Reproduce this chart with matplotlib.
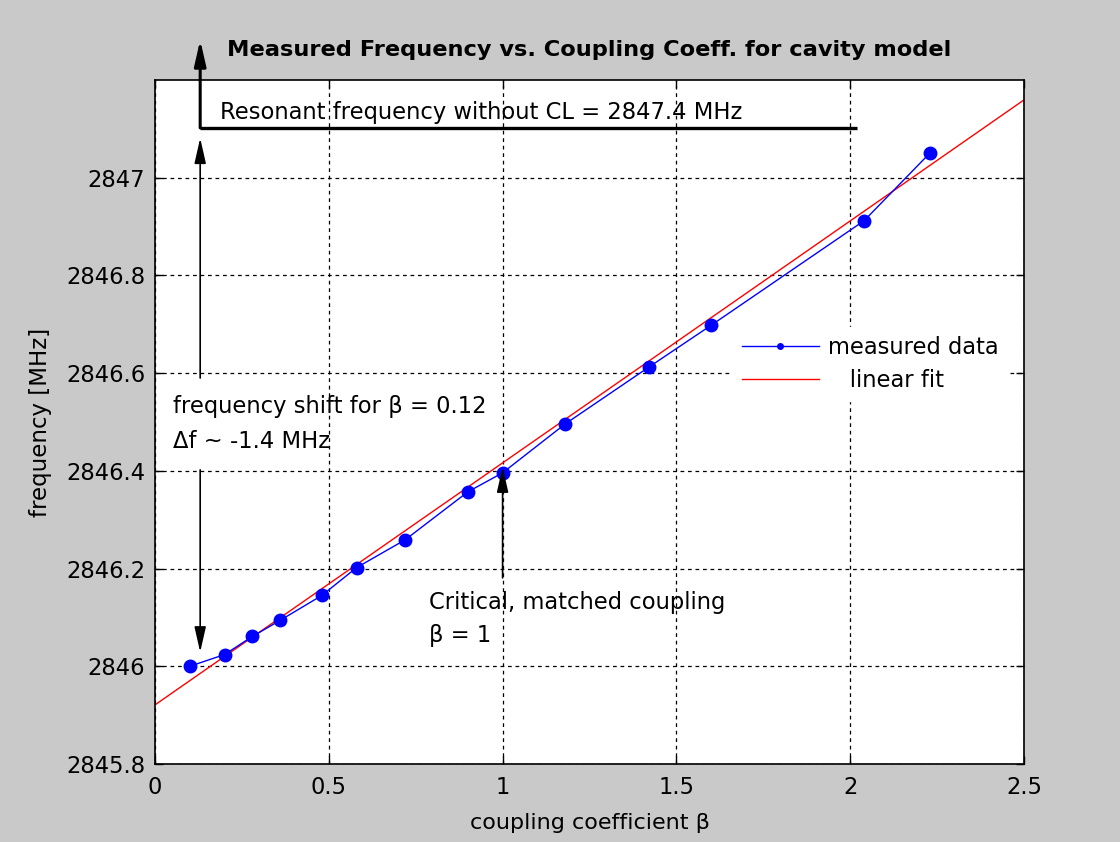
import matplotlib
matplotlib.use("Agg")
import matplotlib.pyplot as plt
from matplotlib.lines import Line2D
from matplotlib.patches import FancyArrowPatch

plt.rcParams['font.family'] = ['DejaVu Sans']

# measured coupling coefficient and resonant frequency
beta = [0.10, 0.20, 0.28, 0.36, 0.48, 0.58, 0.72, 0.90, 1.00, 1.18, 1.42, 1.60, 2.04, 2.23]
freq = [2846.000, 2846.024, 2846.061, 2846.094, 2846.145, 2846.202, 2846.259,
        2846.357, 2846.396, 2846.496, 2846.612, 2846.698, 2846.912, 2847.051]

# linear fit f = a + b*beta
fit_beta = [0.0, 2.5]
fit_intercept = 2845.921
fit_slope = 0.4953
fit_freq = [fit_intercept + fit_slope * b for b in fit_beta]

x_ticks = [0, 0.5, 1, 1.5, 2, 2.5]
x_tick_labels = ['0', '0.5', '1', '1.5', '2', '2.5']
y_ticks = [2845.8, 2846.0, 2846.2, 2846.4, 2846.6, 2846.8, 2847.0]
y_tick_labels = ['2845.8', '2846', '2846.2', '2846.4', '2846.6', '2846.8', '2847']

FS = 16.3

W, H = 1120, 842
fig = plt.figure(figsize=(W / 100, H / 100), dpi=100, facecolor='#c9c9c9')
ax = fig.add_axes([155 / W, 1 - 764 / H, (1024 - 155) / W, (764 - 80) / H])
ax.set_facecolor('white')

ax.plot(beta, freq, color='blue', lw=1.0, marker='o', ms=9, mfc='blue', mec='blue', zorder=3)
ax.plot(fit_beta, fit_freq, color='red', lw=1.0, zorder=2)

ax.set_xlim(0, 2.5)
ax.set_ylim(2845.8, 2847.2)
ax.set_xticks(x_ticks)
ax.set_xticklabels(x_tick_labels)
ax.set_yticks(y_ticks)
ax.set_yticklabels(y_tick_labels)
ax.tick_params(direction='in', length=6, width=1, top=True, right=True,
               labelsize=FS, colors='black')
ax.tick_params(axis='x', pad=9)
ax.tick_params(axis='y', pad=7)
for s in ax.spines.values():
    s.set_linewidth(1.2)
ax.grid(True, color='black', lw=0.9, linestyle=(0, (3, 3)))

ax.set_xlabel('coupling coefficient β', fontsize=16, labelpad=10)
ax.set_ylabel('frequency [MHz]', fontsize=16.5, labelpad=10)
ax.set_title('Measured Frequency vs. Coupling Coeff. for cavity model',
             fontsize=16.2, fontweight='bold', pad=17)

# legend
handles = [Line2D([], [], color='blue', lw=1.0, marker='o', ms=4),
           Line2D([], [], color='red', lw=1.0)]
leg = ax.legend(handles, ['measured data', '   linear fit'], loc='center left',
                bbox_to_anchor=(0.652, 0.585), fontsize=FS, frameon=True,
                handlelength=3.4, handletextpad=0.4, labelspacing=0.45,
                borderpad=0.4, fancybox=False)
leg.get_frame().set_edgecolor('white')
leg.get_frame().set_facecolor('white')
leg.get_frame().set_alpha(1.0)


def arrow(x0, y0, x1, y1, lw=1.2, hl=1.1, hw=0.25):
    a = FancyArrowPatch((x0, y0), (x1, y1),
                        arrowstyle=f'-|>,head_length={hl},head_width={hw}',
                        mutation_scale=14, color='black', lw=lw,
                        shrinkA=0, shrinkB=0, clip_on=False, zorder=5)
    ax.add_patch(a)


# resonant frequency marker without coupling loop
xa = 0.13
ax.plot([xa, 2.02], [2847.102, 2847.102], color='black', lw=2.4,
        clip_on=False, zorder=5, solid_capstyle='butt')
arrow(xa, 2847.102, xa, 2847.282, lw=2.2)
ax.text(0.187, 2847.134, 'Resonant frequency without CL = 2847.4 MHz',
        fontsize=FS, va='center', ha='left')

# frequency shift arrows
arrow(xa, 2846.59, xa, 2847.081)
arrow(xa, 2846.402, xa, 2846.029)
ax.text(0.052, 2846.531, 'frequency shift for β = 0.12', fontsize=FS,
        va='center', ha='left')
ax.text(0.052, 2846.461, 'Δf ~ -1.4 MHz', fontsize=FS, va='center', ha='left')

# critical coupling
arrow(1.0, 2846.181, 1.0, 2846.408)
ax.text(0.788, 2846.13, 'Critical, matched coupling', fontsize=FS,
        va='center', ha='left')
ax.text(0.788, 2846.064, 'β = 1', fontsize=FS, va='center', ha='left')

fig.savefig('out.png', dpi=100, facecolor=fig.get_facecolor())
